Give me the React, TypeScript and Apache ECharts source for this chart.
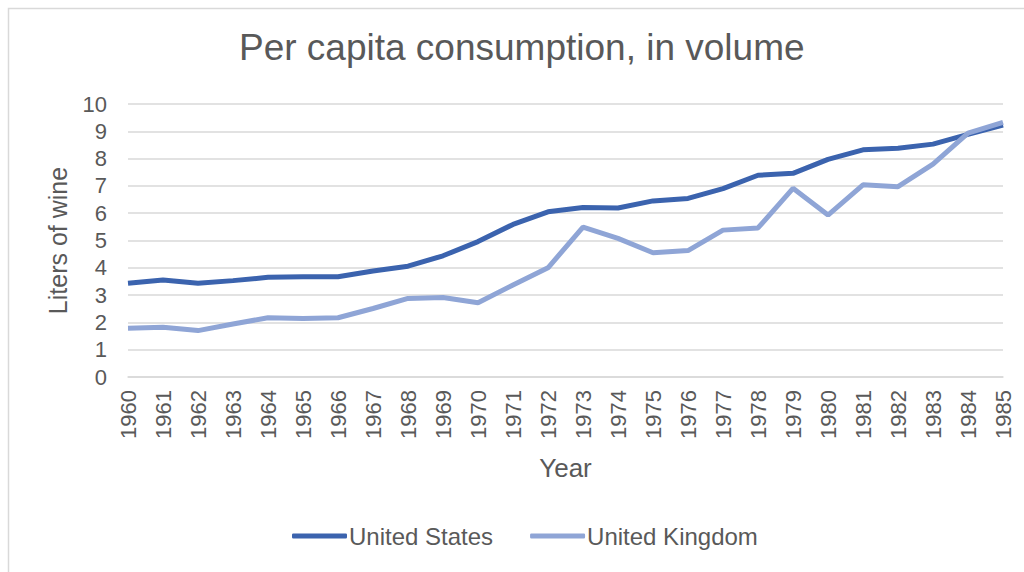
import React, { useEffect, useRef } from "react";
import * as echarts from "echarts";

const years = ["1960","1961","1962","1963","1964","1965","1966","1967","1968","1969","1970","1971","1972","1973","1974","1975","1976","1977","1978","1979","1980","1981","1982","1983","1984","1985"];
const unitedStates = [3.43,3.55,3.43,3.53,3.65,3.67,3.67,3.88,4.06,4.44,4.96,5.59,6.05,6.21,6.19,6.45,6.54,6.9,7.39,7.46,7.97,8.32,8.38,8.53,8.89,9.23];
const unitedKingdom = [1.79,1.82,1.7,1.94,2.17,2.14,2.17,2.51,2.88,2.91,2.72,3.37,4.0,5.49,5.08,4.55,4.63,5.38,5.46,6.91,5.93,7.04,6.97,7.8,8.93,9.33];

const FONT = "'Liberation Sans', Arial, sans-serif";

export default function App() {
  const ref = useRef<HTMLDivElement>(null);
  useEffect(() => {
    const chart = echarts.init(ref.current!, null, { renderer: "svg" });
    chart.setOption({
      animation: false,
      backgroundColor: "#ffffff",
      textStyle: { fontFamily: FONT },
      graphic: [
        {
          type: "rect",
          shape: { x: 8.5, y: 8.5, width: 1030, height: 600 },
          style: { fill: "none", stroke: "#d9d9d9", lineWidth: 1.5 },
          silent: true,
        },
      ],
      title: {
        text: "Per capita consumption, in volume",
        left: 234,
        top: 24,
        textStyle: { fontFamily: FONT, fontSize: 37, fontWeight: "normal", color: "#595959" },
      },
      legend: {
        top: 524,
        left: 292,
        padding: 0,
        itemWidth: 55,
        itemHeight: 5,
        itemGap: 37,
        icon: "roundRect",
        textStyle: { fontFamily: FONT, fontSize: 24, color: "#595959", padding: [0, 0, 0, -3] },
        data: ["United States", "United Kingdom"],
      },
      grid: { left: 128, right: 21, top: 104, bottom: 195, containLabel: false },
      xAxis: {
        type: "category",
        data: years,
        boundaryGap: false,
        name: "Year",
        nameLocation: "middle",
        nameGap: 78,
        nameTextStyle: { fontFamily: FONT, fontSize: 26, color: "#595959" },
        axisLine: { show: true, lineStyle: { color: "#d9d9d9", width: 1.5 } },
        axisTick: { show: false },
        axisLabel: { rotate: 90, fontFamily: FONT, fontSize: 22, color: "#595959", margin: 13, interval: 0 },
        splitLine: { show: false },
      },
      yAxis: {
        type: "value",
        min: 0,
        max: 10,
        interval: 1,
        name: "Liters of wine",
        nameLocation: "middle",
        nameGap: 58,
        nameTextStyle: { fontFamily: FONT, fontSize: 25, color: "#595959" },
        axisLine: { show: false },
        axisTick: { show: false },
        axisLabel: { fontFamily: FONT, fontSize: 22, color: "#595959", margin: 21 },
        splitLine: { lineStyle: { color: "#d9d9d9", width: 1.5 } },
      },
      series: [
        {
          name: "United States",
          type: "line",
          data: unitedStates,
          showSymbol: false,
          symbol: "none",
          lineStyle: { color: "#3B63AE", width: 5 },
          itemStyle: { color: "#3B63AE" },
        },
        {
          name: "United Kingdom",
          type: "line",
          data: unitedKingdom,
          showSymbol: false,
          symbol: "none",
          lineStyle: { color: "#8FA5D6", width: 5 },
          itemStyle: { color: "#8FA5D6" },
        },
      ],
    });
    return () => chart.dispose();
  }, []);
  return <div ref={ref} style={{ width: 1024, height: 572, position: "absolute", left: 0, top: 0 }} />;
}
